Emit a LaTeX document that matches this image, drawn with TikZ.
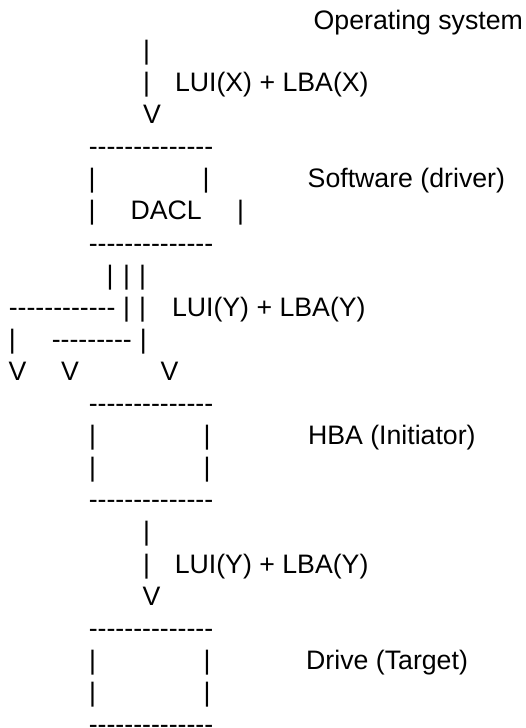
\documentclass[tikz,border=0pt]{standalone}
\usepackage{fontspec}
\setmainfont{Liberation Sans}
% a run of plain hyphens, boxed one by one so no dash ligature forms
\newcommand\hyphens[1]{\ifnum#1>0 \mbox{-}\expandafter\hyphens\expandafter{\the\numexpr#1-1\relax}\fi}
\tikzset{
  txt/.style={inner sep=0pt, outer sep=0pt, anchor=base west, font=\fontsize{26.7}{32}\selectfont},
  glyph/.style={inner sep=0pt, outer sep=0pt, anchor=base, font=\fontsize{26.7}{32}\selectfont},
}
\begin{document}
\begin{tikzpicture}[x=1pt,y=-1pt]
\useasboundingbox (0,0) rectangle (526,728);
% row baselines: 32.1*n - 4.8
% --- operating system and first hop
\node[txt] (os) at (313.7,29.8) {Operating system};
\node[glyph] (b2) at (146.5,59.4) {|};
\node[glyph] (b3) at (146.5,91.5) {|};
\node[txt] (lx) at (175,91.5) {LUI(X) + LBA(X)};
\node[glyph] (v4) at (152,123.6) {V};
% --- driver box
\node[txt] (d5) at (88.8,155.7) {\hyphens{14}};
\node[glyph] (b6l) at (92,187.8) {|};
\node[glyph] (b6r) at (206,187.8) {|};
\node[txt] (sw) at (307.7,187.8) {Software (driver)};
\node[glyph] (b7l) at (92,219.9) {|};
\node[txt] (dacl) at (130.6,219.9) {DACL};
\node[glyph] (b7r) at (240.7,219.9) {|};
\node[txt] (d8) at (88.8,252.0) {\hyphens{14}};
% --- fan-out below the driver
\node[glyph] (b9a) at (110,284.1) {|};
\node[glyph] (b9b) at (126.7,284.1) {|};
\node[glyph] (b9c) at (142.7,284.1) {|};
\node[txt] (d10) at (8.8,316.2) {\hyphens{12}};
\node[glyph] (b10a) at (126.7,316.2) {|};
\node[glyph] (b10b) at (142.7,316.2) {|};
\node[txt] (ly1) at (172,316.2) {LUI(Y) + LBA(Y)};
\node[glyph] (b11a) at (12.3,348.3) {|};
\node[txt] (d11) at (51.8,348.3) {\hyphens{9}};
\node[glyph] (b11b) at (143.3,348.3) {|};
\node[glyph] (v12a) at (17.5,380.4) {V};
\node[glyph] (v12b) at (70,380.4) {V};
\node[glyph] (v12c) at (169.5,380.4) {V};
% --- HBA box
\node[txt] (d13) at (88.8,412.5) {\hyphens{14}};
\node[glyph] (b14l) at (92.5,444.6) {|};
\node[glyph] (b14r) at (207,444.6) {|};
\node[txt] (hba) at (308,444.6) {HBA (Initiator)};
\node[glyph] (b15l) at (92.5,476.7) {|};
\node[glyph] (b15r) at (207,476.7) {|};
\node[txt] (d16) at (88.8,508.8) {\hyphens{14}};
% --- hop to the drive
\node[glyph] (b17) at (146.7,540.9) {|};
\node[glyph] (b18) at (146.7,573.0) {|};
\node[txt] (ly2) at (174.8,573.0) {LUI(Y) + LBA(Y)};
\node[glyph] (v19) at (151.5,605.1) {V};
% --- drive box
\node[txt] (d20) at (88.8,637.2) {\hyphens{14}};
\node[glyph] (b21l) at (92.5,669.3) {|};
\node[glyph] (b21r) at (207,669.3) {|};
\node[txt] (drv) at (306.2,669.3) {Drive (Target)};
\node[glyph] (b22l) at (92.5,701.4) {|};
\node[glyph] (b22r) at (207,701.4) {|};
\node[txt] (d23) at (88.8,733.5) {\hyphens{14}};
\end{tikzpicture}
\end{document}
